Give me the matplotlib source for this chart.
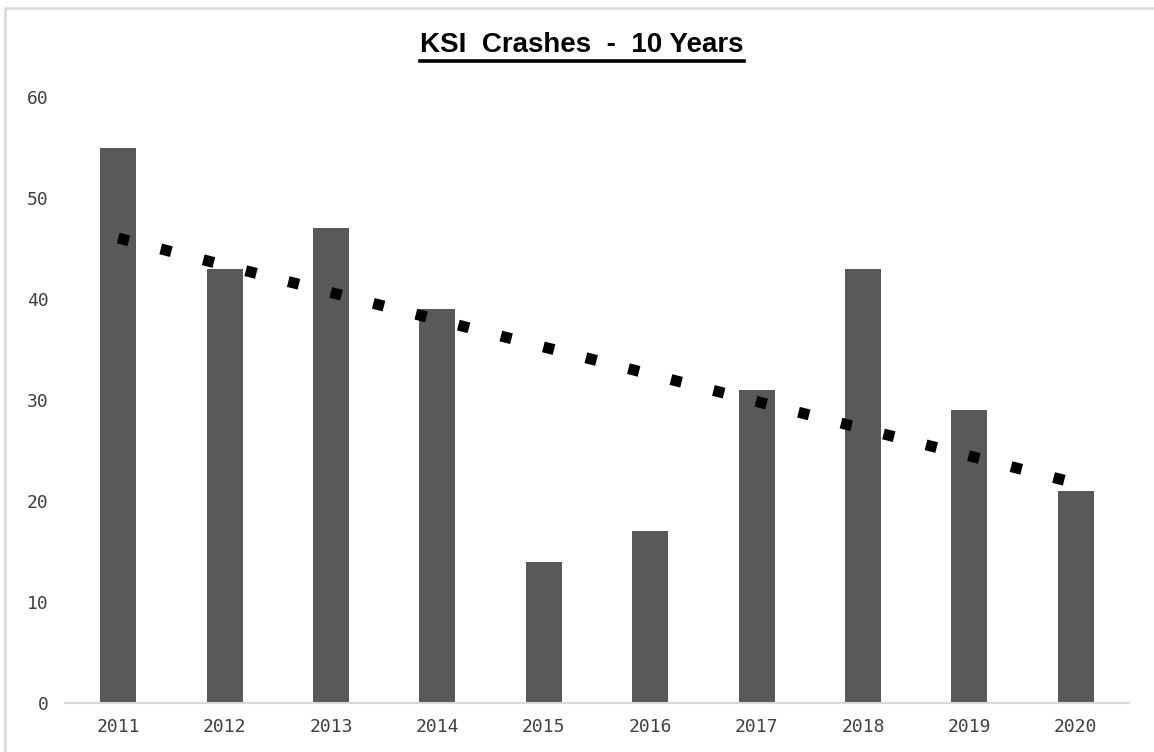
import matplotlib
matplotlib.use("Agg")
import matplotlib.pyplot as plt
from matplotlib.lines import Line2D
import numpy as np

# data
years = ["2011", "2012", "2013", "2014", "2015", "2016", "2017", "2018", "2019", "2020"]
ksi_crashes = [55, 43, 47, 39, 14, 17, 31, 43, 29, 21]
y_ticks = [0, 10, 20, 30, 40, 50, 60]

W, H = 1154, 752
fig = plt.figure(figsize=(W / 100, H / 100), dpi=100)
ax = fig.add_axes([65 / W, (H - 703) / H, (1129 - 65) / W, (703 - 97) / H])

x = np.arange(len(years))
ax.bar(x, ksi_crashes, width=0.34, color="#595959", zorder=2)

# linear trendline like Excel's
slope, intercept = np.polyfit(x, ksi_crashes, 1)
trend = slope * x + intercept
ax.plot(x, trend, color="black", linewidth=7.9, dashes=(1, 3),
        dash_capstyle="butt", zorder=3)

ax.set_xlim(-0.5, len(years) - 0.5)
ax.set_ylim(0, 60)
ax.set_xticks(x)
ax.set_xticklabels(years)
ax.set_yticks(y_ticks)

for s in ["top", "right", "left"]:
    ax.spines[s].set_visible(False)
ax.spines["bottom"].set_color("#d9d9d9")
ax.spines["bottom"].set_linewidth(1.5)

ax.tick_params(axis="both", length=0, labelsize=13, labelcolor="#404040")
ax.tick_params(axis="y", pad=12)
ax.tick_params(axis="x", pad=11)
for lab in ax.get_xticklabels() + ax.get_yticklabels():
    lab.set_family("DejaVu Sans Mono")

# title with underline
title = fig.text(582 / W, 1 - 45 / H, "KSI  Crashes  -  10 Years", ha="center", va="center",
                 fontsize=20, fontweight="bold", family="Liberation Sans", color="black")
fig.canvas.draw()
bb = title.get_window_extent().transformed(fig.transFigure.inverted())
uy = 1 - 61 / H
fig.add_artist(Line2D([bb.x0, bb.x1], [uy, uy], color="black", linewidth=2.6,
                      transform=fig.transFigure))

# light outer border (top and left visible)
fig.add_artist(Line2D([5 / W, 5 / W, 1.0], [0, 1 - 8 / H, 1 - 8 / H], color="#d9d9d9",
                      linewidth=1.8, transform=fig.transFigure))

fig.savefig("out.png", dpi=100)
